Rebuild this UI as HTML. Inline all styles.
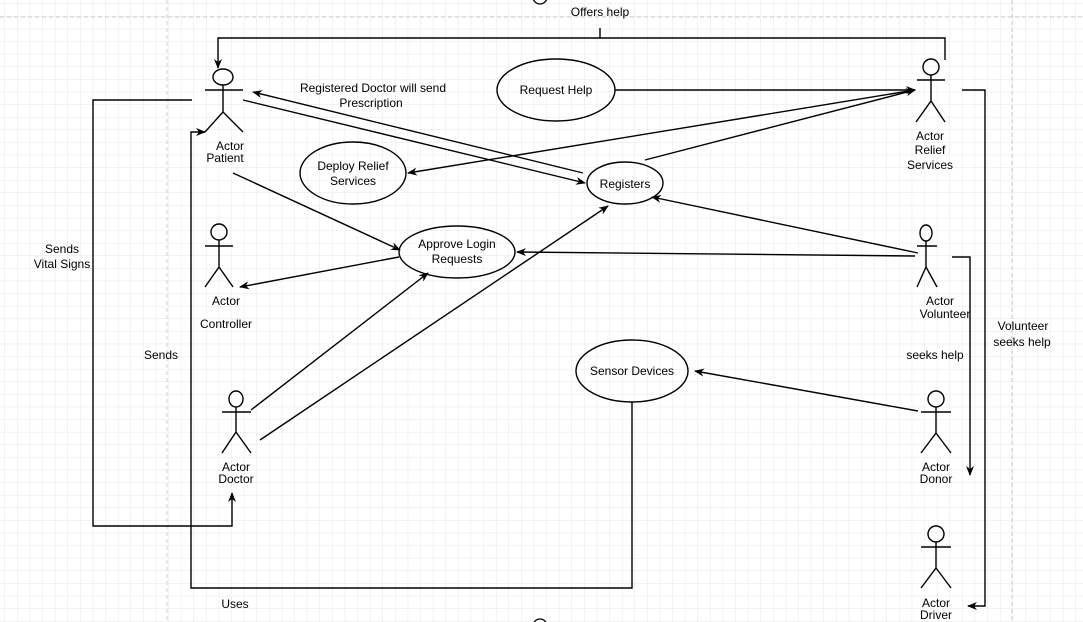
<!DOCTYPE html>
<html><head><meta charset="utf-8"><style>
html,body{margin:0;padding:0;background:#fff}
svg{display:block}
text{font-family:"Liberation Sans",Arial,sans-serif;font-size:12px;fill:#000}
</style></head><body>
<svg width="1083" height="622" viewBox="0 0 1083 622" xmlns="http://www.w3.org/2000/svg">
<defs>
<pattern id="g" width="12.6" height="12.6" patternUnits="userSpaceOnUse" x="5" y="4">
<path d="M12.6 0V12.6M0 12.6H12.6" stroke="#e6e6e6" stroke-width="1" fill="none"/>
</pattern>
<marker id="a" markerWidth="10" markerHeight="10" refX="9" refY="5" orient="auto" markerUnits="userSpaceOnUse">
<path d="M0,1 L10,5 L0,9 L3,5 Z" fill="#000"/>
</marker>
</defs>
<rect width="1083" height="622" fill="url(#g)"/>
<g stroke="#d0d0d0" stroke-dasharray="4,3" fill="none">
<path d="M0 17H1083M167 0V622M1012 0V622"/>
</g>
<g fill="none" stroke="#000" stroke-width="1.3">
<circle cx="540" cy="-3" r="7"/>
<circle cx="540" cy="626" r="7"/>
</g>
<g fill="none" stroke="#000" stroke-width="1.4">
<!-- actors -->
<g id="act"></g>
<ellipse cx="223" cy="77" rx="10" ry="8"/><path d="M205 90H243M223 85V112L205 132M223 112L243 132"/>
<ellipse cx="931" cy="67" rx="8" ry="8"/><path d="M917 80H945M931 75V101L916 122M931 101L945 122"/>
<ellipse cx="219" cy="232" rx="8" ry="8"/><path d="M205 246H233M219 240V267L205 287M219 267L233 287"/>
<ellipse cx="926" cy="233" rx="6" ry="8"/><path d="M917 246H937M926 241V267L917 287M926 267L937 287"/>
<ellipse cx="236" cy="399" rx="7" ry="8"/><path d="M222 412H251M236 407V432L222 453M236 432L251 453"/>
<ellipse cx="936" cy="399" rx="8" ry="8"/><path d="M921 412H951M936 407V433L921 453M936 433L951 453"/>
<ellipse cx="936" cy="534" rx="8" ry="8"/><path d="M921 547H951M936 542V568L921 588M936 568L951 588"/>
<!-- ellipses -->
<ellipse cx="556" cy="90" rx="59" ry="31"/>
<ellipse cx="353" cy="173" rx="53" ry="31"/>
<ellipse cx="625" cy="183" rx="38" ry="21"/>
<ellipse cx="457" cy="252" rx="58" ry="26"/>
<ellipse cx="632" cy="371" rx="56" ry="31"/>
<!-- connectors -->
<path d="M945 60V38H218V68" marker-end="url(#a)"/>
<path d="M600 28V38"/>
<path d="M615 90H915" marker-end="url(#a)"/>
<path d="M915 90L408 173" marker-end="url(#a)"/>
<path d="M645 160L915 90" marker-end="url(#a)"/>
<path d="M243 100L585 183" marker-end="url(#a)"/>
<path d="M583 173L253 92" marker-end="url(#a)"/>
<path d="M233 173L400 250" marker-end="url(#a)"/>
<path d="M399 257L240 287" marker-end="url(#a)"/>
<path d="M915 256L517 252" marker-end="url(#a)"/>
<path d="M918 253L652 197" marker-end="url(#a)"/>
<path d="M251 410L428 273" marker-end="url(#a)"/>
<path d="M260 440L608 206" marker-end="url(#a)"/>
<path d="M192 100H93V526H232V493" marker-end="url(#a)"/>
<path d="M632 402V588H191V132H205" marker-end="url(#a)"/>
<path d="M918 411L695 371" marker-end="url(#a)"/>
<path d="M962 90H985V606H968" marker-end="url(#a)"/>
<path d="M952 257H970V475" marker-end="url(#a)"/>
</g>
<g text-anchor="middle">
<text x="600" y="16">Offers help</text>
<text x="373" y="92">Registered Doctor will send</text>
<text x="371" y="107">Prescription</text>
<text x="556" y="94">Request Help</text>
<text x="353" y="170">Deploy Relief</text>
<text x="353" y="185">Services</text>
<text x="625" y="188">Registers</text>
<text x="457" y="248">Approve Login</text>
<text x="457" y="263">Requests</text>
<text x="632" y="375">Sensor Devices</text>
<text x="230" y="150">Actor</text>
<text x="225" y="162">Patient</text>
<text x="930" y="140">Actor</text>
<text x="930" y="154">Relief</text>
<text x="930" y="169">Services</text>
<text x="226" y="305">Actor</text>
<text x="226" y="328">Controller</text>
<text x="940" y="305">Actor</text>
<text x="945" y="318">Volunteer</text>
<text x="236" y="471">Actor</text>
<text x="236" y="483">Doctor</text>
<text x="936" y="471">Actor</text>
<text x="936" y="483">Donor</text>
<text x="936" y="607">Actor</text>
<text x="936" y="619">Driver</text>
<text x="62" y="253">Sends</text>
<text x="62" y="268">Vital Signs</text>
<text x="161" y="359">Sends</text>
<text x="235" y="608">Uses</text>
<text x="935" y="359">seeks help</text>
<text x="1023" y="330">Volunteer</text>
<text x="1022" y="346">seeks help</text>
</g>
</svg>
</body></html>
